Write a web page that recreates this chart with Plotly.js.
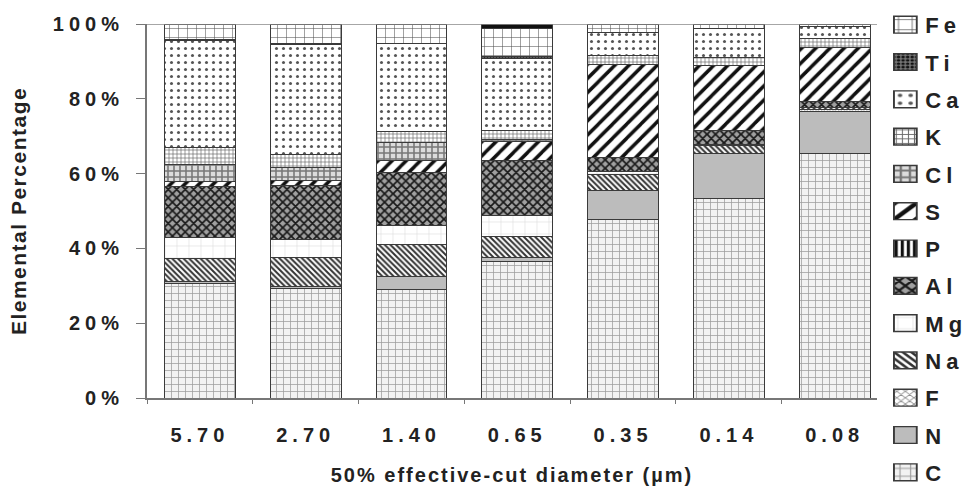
<!DOCTYPE html>
<html><head><meta charset="utf-8">
<script src="https://cdn.plot.ly/plotly-3.0.1.min.js"></script>
<style>
body{margin:0;background:#fff;}
.ytick text{letter-spacing:5px;}
.xtick text{letter-spacing:5px;}
.g-xtitle text{letter-spacing:2px;}
.g-ytitle text{letter-spacing:1.5px;}
.legendtext{letter-spacing:5px;}
</style>
</head><body>
<div id="chart" style="width:974px;height:490px;"></div>
<script>
// Data (percent of total, bottom to top of each stack)
const categories = ['5.70','2.70','1.40','0.65','0.35','0.14','0.08'];
const yTickVals = [0, 20, 40, 60, 80, 100];
const yTickText = ['0%', '20%', '40%', '60%', '80%', '100%'];
const C  = [30.6, 29.4, 28.9, 36.4, 47.8, 53.4, 65.4];
const N  = [0.5, 0.5, 3.6, 1.1, 7.6, 12.0, 11.1];
const F  = [0, 0, 0, 0, 0, 0, 0.6];
const Na = [6.3, 7.6, 8.5, 5.8, 4.3, 2.2, 0.7];
const Mg = [5.6, 4.9, 5.1, 5.6, 0.9, 0.3, 0];
const Al = [13.5, 14.3, 14.1, 14.7, 3.6, 3.6, 1.5];
const P  = [0, 0, 0, 0, 0, 0, 0];
const S  = [1.3, 1.5, 3.3, 4.9, 25.1, 17.5, 14.5];
const Cl = [4.7, 3.4, 4.7, 0.6, 0, 0, 0];
const K  = [4.4, 3.6, 3.1, 2.5, 2.2, 2.1, 2.2];
const Ca = [28.6, 29.2, 23.5, 19.2, 6.3, 7.8, 3.3];
const Ti = [0.4, 0.4, 0, 0.4, 0, 0, 0];
const Fe = [4.1, 5.2, 5.2, 7.6, 2.2, 1.1, 0.7];
const Other = [0, 0, 0, 1.2, 0, 0, 0];

const names = ['C','N','F','Na','Mg','Al','P','S','Cl','K','Ca','Ti','Fe','Other'];
const values = [C,N,F,Na,Mg,Al,P,S,Cl,K,Ca,Ti,Fe,Other];
const patterns = {
  C:  {shape:'+', bgcolor:'#f2f2f2', fgcolor:'#9a9a9a', size:7, solidity:0.2},
  N:  {shape:'', bgcolor:'#bcbcbc', fgcolor:'#bcbcbc'},
  F:  {shape:'x', bgcolor:'#ffffff', fgcolor:'#888888', size:4, solidity:0.3},
  Na: {shape:'\\', bgcolor:'#ffffff', fgcolor:'#333333', size:4, solidity:0.5},
  Mg: {shape:'+', bgcolor:'#ffffff', fgcolor:'#dddddd', size:12, solidity:0.1},
  Al: {shape:'x', bgcolor:'#a0a0a0', fgcolor:'#1a1a1a', size:6, solidity:0.5},
  P:  {shape:'|', bgcolor:'#ffffff', fgcolor:'#111111', size:4, solidity:0.5},
  S:  {shape:'/', bgcolor:'#ffffff', fgcolor:'#111111', size:10, solidity:0.35},
  Cl: {shape:'+', bgcolor:'#dcdcdc', fgcolor:'#777777', size:6, solidity:0.45},
  K:  {shape:'+', bgcolor:'#ffffff', fgcolor:'#666666', size:4, solidity:0.3},
  Ca: {shape:'.', bgcolor:'#ffffff', fgcolor:'#555555', size:7, solidity:0.15},
  Ti: {shape:'.', bgcolor:'#777777', fgcolor:'#111111', size:3, solidity:0.5},
  Fe: {shape:'+', bgcolor:'#ffffff', fgcolor:'#555555', size:9, solidity:0.12},
  Other: {shape:'', bgcolor:'#111111', fgcolor:'#111111'}
};

const traces = names.map((n,i)=>({
  type:'bar', name:n, x:categories, y:values[i],
  legendgroup:n, legendrank: 100 - i, showlegend: n!=='Other',
  marker:{color:patterns[n].bgcolor, pattern:Object.assign({fillmode:'replace'}, patterns[n]),
          line:{color:'#3a3a3a', width:1}},
  hoverinfo:'name+y'
}));

const fontFam = '"Liberation Sans", Arial, sans-serif';
const layout = {
  width:974, height:490,
  margin:{l:147, r:97, t:24, b:92, autoexpand:false},
  paper_bgcolor:'#ffffff', plot_bgcolor:'#ffffff',
  barmode:'stack', bargap:0.33,
  font:{family:fontFam, color:'#222', size:20, weight:'bold'},
  xaxis:{type:'category', range:[-0.5, 6.4], showgrid:false, showline:true, linecolor:'#777', linewidth:2,
         ticks:'outside', tickson:'boundaries', ticklen:4, tickcolor:'#777', automargin:false,
         tickfont:{family:fontFam, size:20, weight:'bold', color:'#222'}, ticklabelstandoff:18,
         title:{text:'50% effective-cut diameter (µm)', font:{family:fontFam, size:20, weight:'bold', color:'#222'}, standoff:23}},
  yaxis:{range:[0,100], tickmode:'array', tickvals:yTickVals, ticktext:yTickText, showgrid:false, zeroline:false,
         showline:true, linecolor:'#777', linewidth:2, ticks:'outside', ticklen:9, tickcolor:'#777', automargin:false,
         tickfont:{family:fontFam, size:20, weight:'bold', color:'#222'}, ticklabelstandoff:8,
         title:{text:'Elemental Percentage', font:{family:fontFam, size:21, weight:'bold', color:'#222'}, standoff:20}},
  legend:{xref:'container', yref:'container', x:0.909, xanchor:'left', y:0.992, yanchor:'top', traceorder:'grouped', tracegroupgap:5.7,
          font:{family:fontFam, size:22, weight:'bold', color:'#222'}, bgcolor:'rgba(0,0,0,0)', borderwidth:0, maxheight:600},
  shapes:[{type:'line', xref:'paper', yref:'y', x0:0, x1:1, y0:100, y1:100, line:{color:'#888', width:1.5}}],
  showlegend:true
};
Plotly.newPlot('chart', traces, layout, {displayModeBar:false, staticPlot:true}).then(()=>{
  document.querySelectorAll('.legend .legendpoints path').forEach(p=>{
    const t = p.getAttribute('transform') || '';
    p.setAttribute('transform', t + ' scale(1.9,1.4)');
  });
});
</script>
</body></html>
